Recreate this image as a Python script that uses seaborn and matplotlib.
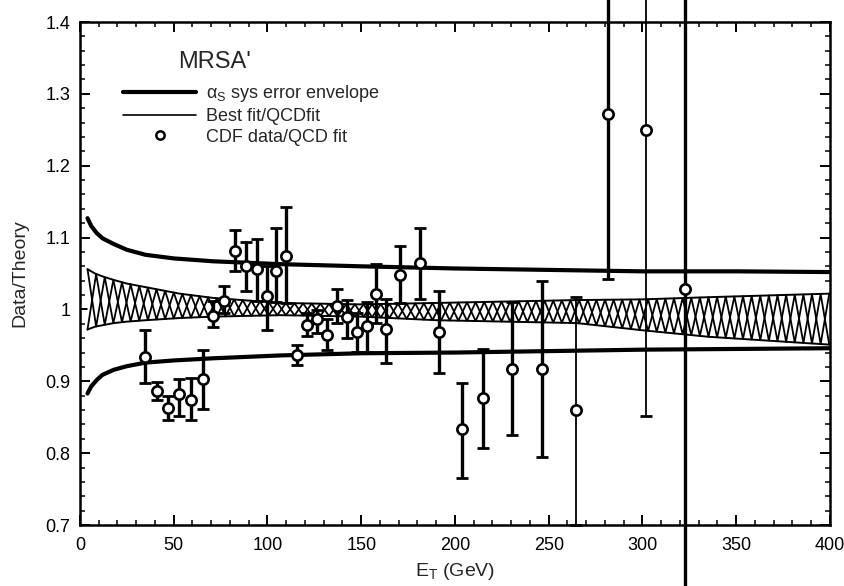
import numpy as np
import matplotlib
matplotlib.use("Agg")
import matplotlib.pyplot as plt
import seaborn as sns
from matplotlib.lines import Line2D
from matplotlib.ticker import MultipleLocator, FixedLocator, FixedFormatter

# ---------------- data ----------------
et = [34.7, 40.9, 46.8, 52.8, 59.2, 65.6, 71.1, 77.0, 82.7, 88.4, 94.2, 99.9,
      104.7, 109.9, 115.6, 120.9, 126.6, 131.6, 136.9, 142.2, 147.6, 152.9,
      157.9, 163.2, 170.7, 181.3, 191.6, 203.5, 215.0, 230.4, 246.5, 264.6,
      281.8, 302.1, 322.7]
ratio = [0.934, 0.887, 0.863, 0.882, 0.874, 0.903, 0.991, 1.012, 1.082, 1.060,
         1.056, 1.018, 1.054, 1.074, 0.937, 0.978, 0.987, 0.964, 1.005, 0.989,
         0.969, 0.977, 1.021, 0.973, 1.048, 1.064, 0.969, 0.833, 0.877, 0.917,
         0.917, 0.860, 1.272, 1.250, 1.028]
err_low = [0.897, 0.874, 0.846, 0.852, 0.846, 0.862, 0.976, 0.995, 1.053, 1.025,
           1.012, 0.971, 1.010, 1.009, 0.923, 0.963, 0.967, 0.944, 0.981, 0.960,
           0.941, 0.941, 0.981, 0.926, 1.009, 1.015, 0.911, 0.765, 0.807, 0.825,
           0.795, 0.700, 1.042, 0.852, 0.500]
err_high = [0.972, 0.899, 0.879, 0.903, 0.905, 0.943, 1.012, 1.032, 1.111, 1.094,
            1.098, 1.060, 1.113, 1.142, 0.950, 0.995, 0.999, 0.987, 1.028, 1.013,
            0.995, 1.011, 1.063, 1.015, 1.088, 1.114, 1.026, 0.898, 0.945, 1.010,
            1.039, 1.017, 1.500, 1.500, 1.500]

# alpha_s systematic error envelope
env_et = [4, 6, 9, 12, 18, 25, 35, 50, 71, 107, 150, 200, 250, 300, 350, 400]
env_high = [1.127, 1.116, 1.106, 1.099, 1.091, 1.083, 1.076, 1.071, 1.067, 1.063,
            1.060, 1.057, 1.055, 1.053, 1.053, 1.052]
env_low = [0.883, 0.893, 0.902, 0.909, 0.916, 0.921, 0.926, 0.929, 0.932, 0.936,
           0.939, 0.940, 0.942, 0.944, 0.945, 0.946]

# best fit / QCD fit band
band_et = [4, 8, 12, 18, 25, 35, 53, 71, 107, 150, 190, 265, 300, 335, 400]
band_high = [1.056, 1.050, 1.046, 1.041, 1.036, 1.031, 1.022, 1.016, 1.009, 1.007,
             1.009, 1.013, 1.014, 1.017, 1.022]
band_low = [0.972, 0.976, 0.978, 0.981, 0.983, 0.985, 0.988, 0.990, 0.992, 0.990,
            0.985, 0.981, 0.971, 0.962, 0.951]

x_ticks = [0, 50, 100, 150, 200, 250, 300, 350, 400]
x_ticklabels = ["0", "50", "100", "150", "200", "250", "300", "350", "400"]
y_ticks = [0.7, 0.8, 0.9, 1.0, 1.1, 1.2, 1.3, 1.4]
y_ticklabels = ["0.7", "0.8", "0.9", "1", "1.1", "1.2", "1.3", "1.4"]

legend_title = "MRSA'"
legend_labels = [r"$\mathregular{\alpha_S}$ sys error envelope",
                 "Best fit/QCDfit", "CDF data/QCD fit"]

# ---------------- style ----------------
sns.set_style("ticks")
plt.rcParams['font.family'] = ['Liberation Sans', 'DejaVu Sans']
plt.rcParams['mathtext.fontset'] = 'custom'
plt.rcParams['mathtext.rm'] = 'Liberation Sans'
plt.rcParams['mathtext.it'] = 'Liberation Sans:italic'
plt.rcParams['mathtext.bf'] = 'Liberation Sans:bold'

fig = plt.figure(figsize=(8.45, 5.86), dpi=100)
ax = fig.add_axes([80 / 845, 1 - 525 / 586, 750 / 845, 503 / 586])

# band: outline + crossing zig-zag pattern
ax.fill_between(band_et, band_low, band_high, facecolor="white", edgecolor="none", zorder=1)
sns.lineplot(x=band_et, y=band_high, color="black", lw=1.4, ax=ax, zorder=2, estimator=None)
sns.lineplot(x=band_et, y=band_low, color="black", lw=1.4, ax=ax, zorder=2, estimator=None)
step = 4.6
xs = np.arange(band_et[0], band_et[-1] + 0.01, step)
top = np.interp(xs, band_et, band_high)
bot = np.interp(xs, band_et, band_low)
phase = np.arange(len(xs)) % 2 == 0
ax.plot(xs, np.where(phase, top, bot), color="black", lw=1.3, zorder=2)
ax.plot(xs, np.where(phase, bot, top), color="black", lw=1.3, zorder=2)

# envelope
sns.lineplot(x=env_et, y=env_high, color="black", lw=3.0, ax=ax, zorder=3, estimator=None)
sns.lineplot(x=env_et, y=env_low, color="black", lw=3.0, ax=ax, zorder=3, estimator=None)

# error bars
et_a = np.array(et)
r_a = np.array(ratio)
lo_a = np.array(err_low)
hi_a = np.array(err_high)
thin = np.zeros(len(et), dtype=bool)
thin[[31, 33]] = True
for mask, lw in [(~thin, 2.4), (thin, 1.3)]:
    cont = ax.errorbar(et_a[mask], r_a[mask],
                       yerr=[r_a[mask] - lo_a[mask], hi_a[mask] - r_a[mask]],
                       fmt="none", ecolor="black", elinewidth=lw, capsize=4.0,
                       capthick=2.0, zorder=4)
    for art in list(cont.lines[1]) + list(cont.lines[2]):
        art.set_clip_on(False)

sns.scatterplot(x=et, y=ratio, marker="o", s=55, facecolor="white",
                edgecolor="black", linewidth=1.9, ax=ax, zorder=5)

# axes
ax.set_xlim(0, 400)
ax.set_ylim(0.7, 1.4)
ax.xaxis.set_major_locator(FixedLocator(x_ticks))
ax.xaxis.set_major_formatter(FixedFormatter(x_ticklabels))
ax.yaxis.set_major_locator(FixedLocator(y_ticks))
ax.yaxis.set_major_formatter(FixedFormatter(y_ticklabels))
ax.xaxis.set_minor_locator(MultipleLocator(10))
ax.yaxis.set_minor_locator(MultipleLocator(0.02))
ax.tick_params(which="both", direction="in", top=True, right=True, colors="black",
               labelsize=13)
ax.tick_params(which="major", length=7, width=1.4)
ax.tick_params(which="minor", length=3.5, width=1.1)
ax.tick_params(axis="x", which="major", pad=9)
ax.tick_params(axis="y", which="major", pad=7)
for sp in ax.spines.values():
    sp.set_visible(True)
    sp.set_linewidth(1.8)
    sp.set_color("black")

ax.set_xlabel(r"$\mathregular{E_T}$ (GeV)", fontsize=14, labelpad=5)
ax.set_ylabel("Data/Theory", fontsize=14, labelpad=12)

# legend
handles = [Line2D([], [], color="black", lw=3.0),
           Line2D([], [], color="black", lw=1.2),
           Line2D([], [], marker="o", ls="none", mfc="white", mec="black", mew=1.8, ms=6)]
ax.legend(handles, legend_labels, loc="upper left", bbox_to_anchor=(0.058, 0.878),
          frameon=False, fontsize=13, handlelength=4.0, handletextpad=0.55,
          borderpad=0, borderaxespad=0, labelspacing=0.2)
ax.text(0.131, 0.92, legend_title, transform=ax.transAxes, fontsize=17,
        ha="left", va="center")

fig.savefig("out.png", dpi=100)
